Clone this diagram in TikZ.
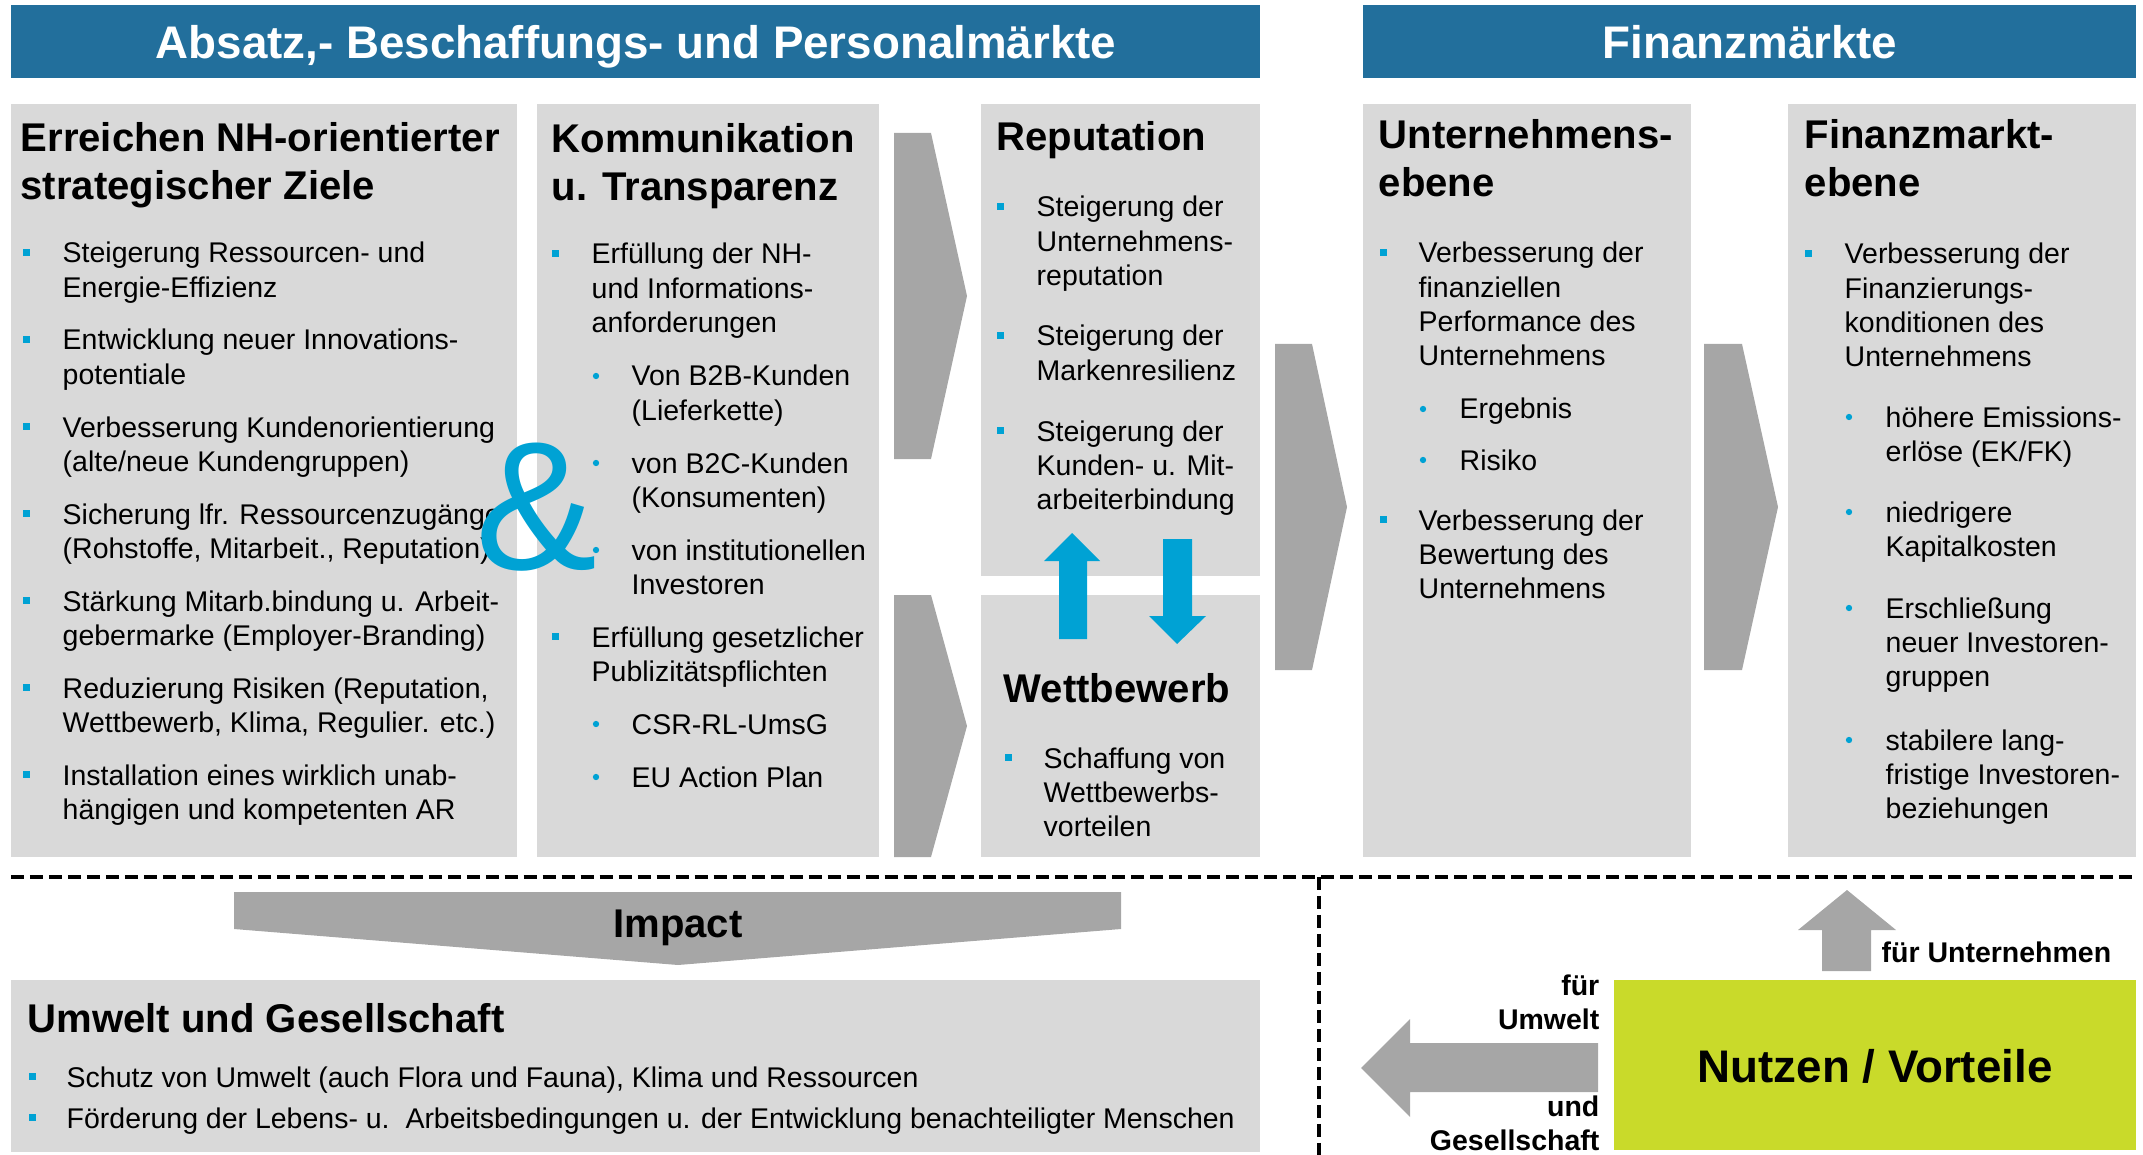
\documentclass[tikz,border=0pt]{standalone}
\usepackage{fontspec}
\setmainfont{Liberation Sans}
\definecolor{kopfblau}{RGB}{34,111,156}
\definecolor{kastengrau}{RGB}{217,217,217}
\definecolor{pfeilgrau}{RGB}{166,166,166}
\definecolor{akzent}{RGB}{0,162,212}
\definecolor{nutzgruen}{RGB}{201,218,42}
\newcommand{\zeilenl}[1]{\begin{tabular}[t]{@{}l@{}}#1\end{tabular}}
\newcommand{\zeilenr}[1]{\begin{tabular}[t]{@{}r@{}}#1\end{tabular}}

\begin{document}
\begin{tikzpicture}[x=0.01cm,y=-0.01cm]
\tikzset{kasten/.style={fill=kastengrau},
  kopf/.style={fill=kopfblau},
  pfeil/.style={fill=pfeilgrau},
  blaupfeil/.style={fill=akzent},
  kopftext/.style={anchor=base, text=white, inner sep=0pt, font=\bfseries\fontsize{13}{15}\selectfont},
  titel/.style={anchor=base west, inner sep=0pt, font=\bfseries\fontsize{11.4}{13.6}\selectfont},
  gross/.style={anchor=base, inner sep=0pt, font=\bfseries\fontsize{11.4}{13.6}\selectfont},
  punkt/.style={anchor=base west, inner sep=0pt, font=\fontsize{8.1}{9.7}\selectfont},
  klein/.style={inner sep=0pt, font=\bfseries\fontsize{8.1}{9.7}\selectfont}}
\useasboundingbox (0,0) rectangle (2143,1155);
% Kopfleisten
\fill[kopf] (11,5) rectangle (1260,78);
\fill[kopf] (1363,5) rectangle (2136,78);
\node[kopftext] (maerkte) at (636,59) {Absatz,- Beschaffungs- und Personalmärkte};
\node[kopftext] (finanz) at (1750,59) {Finanzmärkte};
% Kaesten
\fill[kasten] (11,104) rectangle (517,857);
\fill[kasten] (537,104) rectangle (879,857);
\fill[kasten] (981,104) rectangle (1260,576);
\fill[kasten] (981,595) rectangle (1260,857);
\fill[kasten] (1363,104) rectangle (1691,857);
\fill[kasten] (1788,104) rectangle (2136,857);
\fill[kasten] (11,980) rectangle (1260,1152);
\fill[nutzgruen] (1614,980) rectangle (2136,1150);
% graue Pfeile
\fill[pfeil] (894,133) -- (931,133) -- (967,296) -- (931,459) -- (894,459) -- cycle;
\fill[pfeil] (894,595) -- (931,595) -- (967,726) -- (931,857) -- (894,857) -- cycle;
\fill[pfeil] (1275,344) -- (1312,344) -- (1347,507) -- (1312,670) -- (1275,670) -- cycle;
\fill[pfeil] (1704,344) -- (1742,344) -- (1778,507) -- (1742,670) -- (1704,670) -- cycle;
\fill[pfeil] (234,892) -- (1121,892) -- (1121,929) -- (678,965) -- (234,929) -- cycle;
\fill[pfeil] (1598,1043) -- (1410,1043) -- (1410,1019) -- (1361,1068) -- (1410,1117)
  -- (1410,1092) -- (1598,1092) -- cycle;
\fill[pfeil] (1822,971) -- (1822,930) -- (1798,930) -- (1847,890) -- (1896,930)
  -- (1871,930) -- (1871,971) -- cycle;
% blaue Pfeile
\fill[blaupfeil] (1059,639) -- (1059,561) -- (1044,561) -- (1072,533) -- (1100,561)
  -- (1087,561) -- (1087,639) -- cycle;
\fill[blaupfeil] (1163,539) -- (1192,539) -- (1192,616) -- (1206,616) -- (1177,644)
  -- (1149,616) -- (1163,616) -- cycle;
% Trennlinien
\draw[line width=0.9pt, dash pattern=on 3.7pt off 1.7pt] (11,877) -- (2136,877);
\draw[line width=0.9pt, dash pattern=on 3.7pt off 1.7pt] (1319,877) -- (1319,1155);
% Titel
\node[titel] (ziele) at (20,152) {\zeilenl{Erreichen NH-orientierter\\strategischer Ziele}};
\node[titel] (kommu) at (551,153) {\zeilenl{Kommunikation\\u. Transparenz}};
\node[titel] (repu) at (996,151) {Reputation};
\node[titel] (wettb) at (1003,702) {Wettbewerb};
\node[titel] (uebene) at (1378,149) {\zeilenl{Unternehmens-\\ebene}};
\node[titel] (febene) at (1804,149) {\zeilenl{Finanzmarkt-\\ebene}};
\node[titel] (umwelt) at (27,1032) {Umwelt und Gesellschaft};
\node[gross] (impact) at (678,937) {Impact};
\node[gross, font=\bfseries\fontsize{13}{15}\selectfont] (nutzen) at (1875,1082) {Nutzen / Vorteile};
% Punkte
\foreach \y/\t [count=\n] in {263/{Steigerung Ressourcen- und\\Energie-Effizienz},
  350/{Entwicklung neuer Innovations-\\potentiale},
  437/{Verbesserung Kundenorientierung\\(alte/neue Kundengruppen)},
  524/{Sicherung lfr. Ressourcenzugänge\\(Rohstoffe, Mitarbeit., Reputation)},
  611/{Stärkung Mitarb.bindung u. Arbeit-\\gebermarke (Employer-Branding)},
  698/{Reduzierung Risiken (Reputation,\\Wettbewerb, Klima, Regulier. etc.)},
  785/{Installation eines wirklich unab-\\hängigen und kompetenten AR}} {
  \fill[akzent] (23,\y-14) rectangle +(7,7);
  \node[punkt] (ziel\n) at (62,\y) {\zeilenl{\t}};
}
\foreach \y/\t [count=\n] in {264/{Erfüllung der NH-\\und Informations-\\anforderungen},
  647/{Erfüllung gesetzlicher\\Publizitätspflichten}} {
  \fill[akzent] (552,\y-14) rectangle +(7,7);
  \node[punkt] (komm\n) at (591,\y) {\zeilenl{\t}};
}
\foreach \y/\t [count=\n] in {386/{Von B2B-Kunden\\(Lieferkette)},
  473/{von B2C-Kunden\\(Konsumenten)}, 560/{von institutionellen\\Investoren},
  734/{CSR-RL-UmsG}, 787/{EU Action Plan}} {
  \fill[akzent] (596,\y-10) circle[radius=0.9pt];
  \node[punkt] (kommsub\n) at (631,\y) {\zeilenl{\t}};
}
\foreach \y/\t [count=\n] in {217/{Steigerung der\\Unternehmens-\\reputation},
  346/{Steigerung der\\Markenresilienz}, 441/{Steigerung der\\Kunden- u. Mit-\\arbeiterbindung}} {
  \fill[akzent] (997,\y-14) rectangle +(7,7);
  \node[punkt] (rep\n) at (1036,\y) {\zeilenl{\t}};
}
\fill[akzent] (1005,754) rectangle +(7,7);
\node[punkt] (wett1) at (1043,768) {\zeilenl{Schaffung von\\Wettbewerbs-\\vorteilen}};
\foreach \y/\t [count=\n] in {263/{Verbesserung der\\finanziellen\\Performance des\\Unternehmens},
  530/{Verbesserung der\\Bewertung des\\Unternehmens}} {
  \fill[akzent] (1380,\y-14) rectangle +(7,7);
  \node[punkt] (unt\n) at (1418,\y) {\zeilenl{\t}};
}
\foreach \y/\t [count=\n] in {419/Ergebnis, 470/Risiko} {
  \fill[akzent] (1423,\y-10) circle[radius=0.9pt];
  \node[punkt] (untsub\n) at (1459,\y) {\t};
}
\fill[akzent] (1805,250) rectangle +(7,7);
\node[punkt] (fin1) at (1844,264) {\zeilenl{Verbesserung der\\Finanzierungs-\\konditionen des\\Unternehmens}};
\foreach \y/\t [count=\n] in {427/{höhere Emissions-\\erlöse (EK/FK)},
  522/{niedrigere\\Kapitalkosten}, 618/{Erschließung\\neuer Investoren-\\gruppen},
  750/{stabilere lang-\\fristige Investoren-\\beziehungen}} {
  \fill[akzent] (1849,\y-10) circle[radius=0.9pt];
  \node[punkt] (finsub\n) at (1885,\y) {\zeilenl{\t}};
}
\foreach \y/\t [count=\n] in {1087/{Schutz von Umwelt (auch Flora und Fauna), Klima und Ressourcen},
  1128/{Förderung der Lebens- u.\ \ Arbeitsbedingungen u. der Entwicklung benachteiligter Menschen}} {
  \fill[akzent] (29,\y-14) rectangle +(7,7);
  \node[punkt] (umw\n) at (66,\y) {\t};
}
% Beschriftung der Nutzenpfeile
\node[klein, anchor=base east] (fuerumwelt) at (1600,995) {\zeilenr{für\\Umwelt}};
\node[klein, anchor=base east] (undges) at (1600,1116) {\zeilenr{und\\Gesellschaft}};
\node[klein, anchor=base west] (fuerunt) at (1881,962) {für Unternehmen};
% das grosse Und
\node[inner sep=0pt, text=akzent, font=\fontsize{52}{52}\selectfont] (und) at (536,507) {\&};
\end{tikzpicture}
\end{document}
